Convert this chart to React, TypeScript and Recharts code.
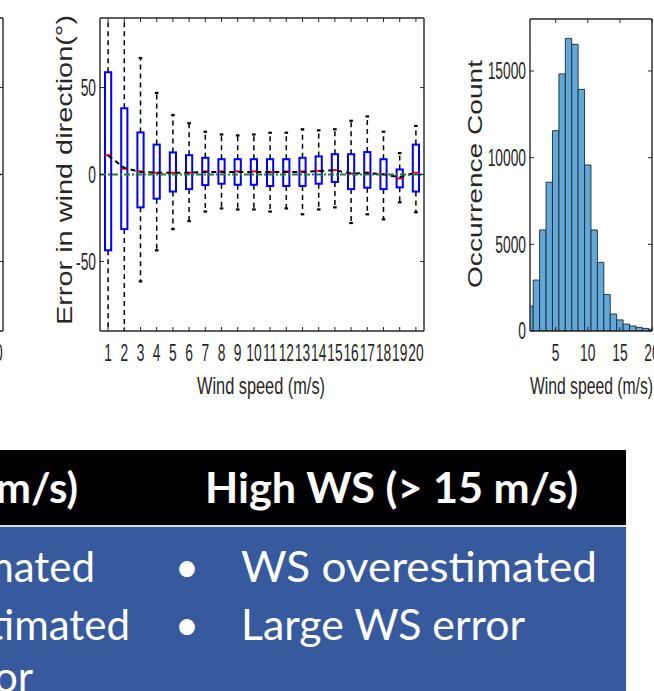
import React from "react";
import { ComposedChart, Bar, Line, XAxis, YAxis, ReferenceLine } from "recharts";

// error in wind direction per wind speed bin (box plot stats, degrees)
const windSpeed = [1, 2, 3, 4, 5, 6, 7, 8, 9, 10, 11, 12, 13, 14, 15, 16, 17, 18, 19, 20];
const whiskerLow = [-125, -110, -61.5, -43.6, -31.4, -26.8, -21.3, -19.5, -20.1, -20.1, -21.3, -19.5, -22.9, -20.1, -18.9, -27.9, -22.9, -25.8, -16.0, -21.7];
const q1 = [-43.6, -31.4, -18.9, -13.9, -9.8, -8.4, -6.1, -5.3, -5.9, -5.9, -6.6, -6.6, -6.6, -5.3, -4.3, -8.4, -7.6, -8.4, -7.4, -9.8];
const median = [11.1, 3.3, 1.8, 1.0, 1.0, 1.0, 1.8, 1.8, 1.8, 1.8, 1.4, 1.8, 1.8, 2.1, 2.5, 0.6, 1.0, 0.2, -2.3, 1.0];
const q3 = [58.8, 38.1, 24.2, 17.2, 12.7, 11.1, 9.6, 8.8, 8.8, 8.8, 8.8, 8.8, 9.6, 10.4, 11.7, 11.7, 12.9, 8.8, 2.9, 17.2];
const whiskerHigh = [120, 105, 67, 46.9, 34.2, 29.5, 24.6, 23.0, 22.5, 23.0, 24.0, 24.0, 26.0, 25.4, 26.0, 30.9, 33.4, 24.6, 12.3, 27.9];
const meanError = [11, 3.8, 1.5, 1.0, 1.0, 1.0, 1.5, 1.5, 1.5, 1.5, 1.5, 1.5, 1.5, 2.0, 2.5, 0.5, 1.0, 0.0, -1.5, 1.0];
const errorTicks = [-50, 0, 50];

// wind speed histogram
const histBins = [1, 2, 3, 4, 5, 6, 7, 8, 9, 10, 11, 12, 13, 14, 15, 16, 17, 18, 19, 20];
const histCounts = [1440, 2940, 5830, 8580, 11560, 14830, 16880, 16540, 13940, 9580, 5830, 3960, 2100, 980, 640, 400, 290, 210, 150, 100];
const countTicks = [0, 5000, 10000, 15000];
const histXTicks = [5, 10, 15, 20];

const boxData = windSpeed.map((ws, i) => ({
  ws,
  lo: whiskerLow[i],
  q1: q1[i],
  med: median[i],
  q3: q3[i],
  hi: whiskerHigh[i],
  mean: meanError[i],
}));
const histData = histBins.map((ws, i) => ({ ws, count: histCounts[i] }));

const AXIS = "#262626";
const FONT = "'Liberation Sans', Arial, sans-serif";
const axisLine = { stroke: AXIS, strokeWidth: 1.4 };
const tickLine = { stroke: AXIS, strokeWidth: 1 };

function NarrowTick(props: any) {
  const { x, y, payload, textAnchor, align, only } = props;
  if (only !== undefined && payload.value !== only) return null;
  return (
    <text
      transform={`translate(${x},${y}) scale(0.6,1)`}
      textAnchor={textAnchor}
      dy={align === "top" ? "0.72em" : "0.36em"}
      fontSize={23}
      fontFamily={FONT}
      fill={AXIS}
    >
      {payload.value}
    </text>
  );
}

const NoTick = () => null;

function title(text: string, rotate: boolean, dx: number, dy: number, length: number, size: number) {
  return (props: any) => {
    const vb = props.viewBox || { x: 0, y: 0, width: 0, height: 0 };
    const cx = vb.x + (rotate ? 0 : vb.width / 2) + dx;
    const cy = vb.y + (rotate ? vb.height / 2 : 0) + dy;
    return (
      <text
        transform={`translate(${cx},${cy})${rotate ? " rotate(-90)" : ""}`}
        textAnchor="middle"
        fontSize={size}
        fontFamily={FONT}
        fill={AXIS}
        textLength={length}
        lengthAdjust="spacingAndGlyphs"
      >
        {text}
      </text>
    );
  };
}

function BoxShape(props: any) {
  const { x, y, width, height, payload } = props;
  const { lo, hi } = payload;
  const toY = (v: number) => y + ((hi - v) / (hi - lo)) * height;
  const cx = x + width / 2;
  return (
    <g>
      <line x1={cx} x2={cx} y1={toY(payload.q3)} y2={toY(hi)} stroke="#000" strokeWidth={1.5} strokeDasharray="5 4" />
      <line x1={cx} x2={cx} y1={toY(payload.q1)} y2={toY(lo)} stroke="#000" strokeWidth={1.5} strokeDasharray="5 4" />
      <line x1={cx - 1.8} x2={cx + 1.8} y1={toY(hi)} y2={toY(hi)} stroke="#000" strokeWidth={2.2} />
      <line x1={cx - 1.8} x2={cx + 1.8} y1={toY(lo)} y2={toY(lo)} stroke="#000" strokeWidth={2.2} />
      <rect
        x={x}
        y={toY(payload.q3)}
        width={width}
        height={toY(payload.q1) - toY(payload.q3)}
        fill="none"
        stroke="#0000ff"
        strokeWidth={2}
      />
      <line x1={x} x2={x + width} y1={toY(payload.med)} y2={toY(payload.med)} stroke="#ff0000" strokeWidth={2} />
    </g>
  );
}

// axes need a non-zero thickness to be drawn, so they get 1px and the margins shrink by 1
function errorFrame(main: boolean) {
  return [
    <XAxis
      key="xb"
      dataKey="ws"
      type="number"
      domain={[0.5, 20.5]}
      ticks={windSpeed}
      interval={0}
      allowDataOverflow
      height={1}
      tickSize={-4}
      tickMargin={17}
      tick={main ? <NarrowTick align="top" /> : <NarrowTick align="top" only={20} />}
      axisLine={axisLine}
      tickLine={tickLine}
      label={main ? { content: title("Wind speed (m/s)", false, -1, 63, 128, 24) } : undefined}
    />,
    <XAxis
      key="xt"
      xAxisId="top"
      orientation="top"
      dataKey="ws"
      type="number"
      domain={[0.5, 20.5]}
      ticks={windSpeed}
      interval={0}
      allowDataOverflow
      height={1}
      tickSize={-4}
      tick={NoTick}
      axisLine={axisLine}
      tickLine={tickLine}
    />,
    <YAxis
      key="yl"
      type="number"
      domain={[-90, 90]}
      ticks={errorTicks}
      interval={0}
      allowDataOverflow
      width={1}
      tickSize={-4}
      tickMargin={8}
      tick={main ? <NarrowTick align="middle" /> : NoTick}
      axisLine={axisLine}
      tickLine={tickLine}
      label={main ? { content: title("Error in wind direction(\u00b0)", true, -27.5, -4.5, 310, 22) } : undefined}
    />,
    <YAxis
      key="yr"
      yAxisId="right"
      orientation="right"
      type="number"
      domain={[-90, 90]}
      ticks={errorTicks}
      interval={0}
      allowDataOverflow
      width={1}
      tickSize={-4}
      tick={NoTick}
      axisLine={axisLine}
      tickLine={tickLine}
    />,
  ];
}

const zeroLine = (
  <ReferenceLine y={0} stroke="#2b7a2b" strokeWidth={2} strokeDasharray="6 2 2 2" />
);

const margin = { top: 17, right: 15, bottom: 88, left: 99 };

export default function App() {
  return (
    <div
      style={{
        position: "absolute",
        left: 0,
        top: 0,
        width: 654,
        height: 691,
        overflow: "hidden",
        background: "#fff",
      }}
    >
      {/* edge of the previous panel */}
      <div style={{ position: "absolute", left: -421, top: 0 }}>
        <ComposedChart width={440} height={420} data={boxData} margin={margin}>
          {errorFrame(false)}
          {zeroLine}
        </ComposedChart>
      </div>

      {/* wind direction error box plot */}
      <div style={{ position: "absolute", left: 0, top: 0 }}>
        <ComposedChart width={440} height={420} data={boxData} margin={margin}>
          {errorFrame(true)}
          <Bar
            dataKey={(d: any) => [d.lo, d.hi]}
            barSize={6.2}
            shape={(p: any) => <BoxShape {...p} />}
            isAnimationActive={false}
          />
          <Line
            dataKey="mean"
            stroke="#000"
            strokeWidth={2}
            strokeDasharray="5 4"
            dot={false}
            isAnimationActive={false}
          />
          {zeroLine}
        </ComposedChart>
      </div>

      {/* wind speed histogram */}
      <div style={{ position: "absolute", left: 440, top: 0 }}>
        <ComposedChart width={214} height={420} data={histData} margin={{ top: 18, right: 1, bottom: 88, left: 89 }}>
          <XAxis
            dataKey="ws"
            type="number"
            domain={[1, 20]}
            ticks={histXTicks}
            interval={0}
            allowDataOverflow
            height={1}
            tickSize={-4}
            tickMargin={17}
            tick={<NarrowTick align="top" />}
            axisLine={axisLine}
            tickLine={tickLine}
            label={{ content: title("Wind speed (m/s)", false, 0.5, 63, 123, 24) }}
          />
          <XAxis
            xAxisId="top"
            orientation="top"
            dataKey="ws"
            type="number"
            domain={[1, 20]}
            ticks={histXTicks}
            interval={0}
            allowDataOverflow
            height={1}
            tickSize={-4}
            tick={NoTick}
            axisLine={axisLine}
            tickLine={tickLine}
          />
          <YAxis
            type="number"
            domain={[0, 18000]}
            ticks={countTicks}
            interval={0}
            allowDataOverflow
            width={1}
            tickSize={-4}
            tickMargin={8}
            tick={<NarrowTick align="middle" />}
            axisLine={axisLine}
            tickLine={tickLine}
            label={{ content: title("Occurrence Count", true, -47, -1, 228, 21) }}
          />
          <YAxis
            yAxisId="right"
            orientation="right"
            type="number"
            domain={[0, 18000]}
            ticks={countTicks}
            interval={0}
            allowDataOverflow
            width={1}
            tickSize={-4}
            tick={NoTick}
            axisLine={axisLine}
            tickLine={tickLine}
          />
          <Bar
            dataKey="count"
            barSize={6.4}
            fill="#62A8D9"
            stroke="#1c2a36"
            strokeWidth={0.9}
            isAnimationActive={false}
          />
        </ComposedChart>
      </div>

      {/* summary table */}
      <svg
        width={654}
        height={241}
        style={{ position: "absolute", left: 0, top: 450 }}
        fontFamily="Lato, 'Open Sans', sans-serif"
      >
        <rect x={0} y={0} width={626} height={75} fill="#000" />
        <rect x={0} y={75} width={626} height={2} fill="#d9d9d9" />
        <rect x={0} y={77} width={626} height={164} fill="#375A9E" />
        <text x={78} y={53} textAnchor="end" fontSize={42} fontWeight={700} fill="#fff">
          WS (5 - 15 m/s)
        </text>
        <text x={205} y={53} fontSize={42} fontWeight={700} fill="#fff" textLength={373} lengthAdjust="spacingAndGlyphs">
          High WS (&gt; 15 m/s)
        </text>
        <text x={95} y={132} textAnchor="end" fontSize={42} fill="#fff">WS underestimated</text>
        <text x={130} y={190} textAnchor="end" fontSize={42} fill="#fff">WD underestimated</text>
        <text x={33} y={242} textAnchor="end" fontSize={42} fill="#fff">Small WS error</text>
        <text x={187} y={132} textAnchor="middle" fontSize={42} fill="#fff">{"\u2022"}</text>
        <text x={187} y={190} textAnchor="middle" fontSize={42} fill="#fff">{"\u2022"}</text>
        <text x={241} y={132} fontSize={42} fill="#fff" textLength={356} lengthAdjust="spacingAndGlyphs">
          WS overestimated
        </text>
        <text x={241} y={190} fontSize={42} fill="#fff" textLength={284} lengthAdjust="spacingAndGlyphs">
          Large WS error
        </text>
      </svg>
    </div>
  );
}
